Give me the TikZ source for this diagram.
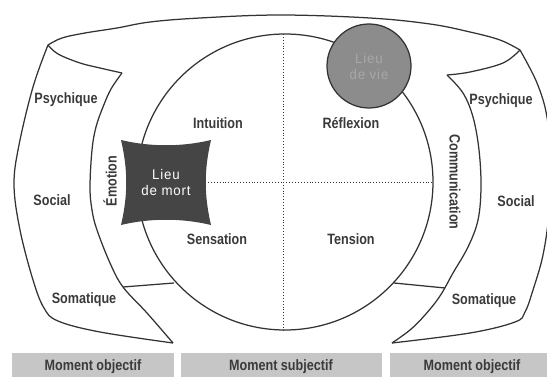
\documentclass[tikz,border=0pt]{standalone}
\usepackage{fontspec}
\setmainfont{Liberation Sans}[FakeStretch=0.84]
\newfontfamily\thinfont{Liberation Sans}[LetterSpace=6, FakeStretch=0.95]
\definecolor{ink}{HTML}{333333}
\definecolor{txt}{HTML}{3A3A3A}
\definecolor{boxgray}{HTML}{C6C6C6}
\definecolor{mortgray}{HTML}{454545}
\definecolor{viegray}{HTML}{8C8C8C}
\definecolor{vietext}{HTML}{A8A8A8}
\tikzset{
  line/.style={draw=ink, line width=1.25pt, line join=round},
  lbl/.style={text=txt, font=\fontsize{15}{17}\selectfont\bfseries, inner sep=0pt},
  dots/.style={draw=ink, line width=0.9pt, dotted},
}
\begin{document}
\begin{tikzpicture}[x=1pt,y=-1pt]
\useasboundingbox (0,0) rectangle (547,377);
\begin{scope}
\clip (0,0) rectangle (547,377);
% left panel
\draw[line] plot[smooth, tension=0.6] coordinates {(48,45) (58,54) (80,63) (100,68) (122,73)};
\draw[line] plot[smooth, tension=0.6] coordinates {(122,73) (111,89) (103,107) (96,127) (92,150) (90,187) (92,210) (97,230) (110,263) (123,287) (147,313) (173,343)};
\draw[line] plot[smooth, tension=0.6] coordinates {(48,45) (33,87) (19,145) (14,185) (20,230) (33,280) (44,308) (58,321) (100,332) (173,343)};
% top band
\draw[line] plot[smooth, tension=0.6] coordinates {(48,45) (62,38) (85,33) (117,28) (150,22) (200,18) (280,15) (370,18) (430,24) (470,32) (500,40) (520,50)};
% right panel
\draw[line] plot[smooth, tension=0.6] coordinates {(520,50) (503,63) (470,72) (447,75)};
\draw[line] plot[smooth, tension=0.6] coordinates {(447,75) (463,93) (473,117) (479,150) (481,187) (478,220) (468,247) (453,273) (440,296) (425,315) (410,330) (392,343)};
\draw[line] plot[smooth, tension=0.6] coordinates {(520,50) (537,83) (547,117) (551,165) (549,213) (543,255) (533,290) (525,312) (515,322) (470,333) (392,343)};
% central circle
\coordinate (c) at (285,182);
\draw[line] (c) circle[radius=148pt];
\coordinate (vt) at (283,34);
\coordinate (vb) at (283,330);
\coordinate (hl) at (208,182);
\coordinate (hr) at (433,182);
\draw[dots] (vt) -- (vb);
\draw[dots] (hl) -- (hr);
% bottom closing lines
\coordinate (el) at (123,287);
\coordinate (er) at (174,283);
\draw[line] (el) -- (er);
\coordinate (cl) at (394,283);
\coordinate (cr) at (445,288);
\draw[line] (cl) -- (cr);
% lieu de mort
\fill[mortgray] (121,140) .. controls (150,147) and (182,147) .. (211,140)
  .. controls (204,170) and (204,195) .. (211,225)
  .. controls (182,218) and (150,218) .. (121,225)
  .. controls (128,195) and (128,170) .. (121,140) -- cycle;
\node[text=white, font=\thinfont\fontsize{14}{16}\selectfont, align=center, inner sep=0pt] (mort) at (166,182) {Lieu\\de mort};
% lieu de vie
\node[circle, draw=ink, line width=1.25pt, fill=viegray, minimum size=84pt, inner sep=0pt,
  text=vietext, font=\thinfont\fontsize{14}{16}\selectfont, align=center] (vie) at (369,66) {Lieu\\de vie};
% labels
\node[lbl] (psyl) at (66,100) {Psychique};
\node[lbl] (socl) at (52,200) {Social};
\node[lbl] (soml) at (84,300) {Somatique};
\node[lbl] (psyr) at (501,101) {Psychique};
\node[lbl] (socr) at (516,201) {Social};
\node[lbl] (somr) at (484,301) {Somatique};
\node[lbl] (intu) at (218,123) {Intuition};
\node[lbl] (refl) at (351,123) {Réflexion};
\node[lbl] (sens) at (217,239) {Sensation};
\node[lbl] (tens) at (351,239) {Tension};
\node[lbl, rotate=90] (emo) at (110,181) {Émotion};
\node[lbl, rotate=-90] (comm) at (455,182) {Communication};
% moment boxes
\path[fill=boxgray] (12,353) rectangle (174,380);
\path[fill=boxgray] (181,353) rectangle (382,380);
\path[fill=boxgray] (390,353) rectangle (560,380);
\node[lbl] (mo1) at (93,367) {Moment objectif};
\node[lbl] (ms) at (281,367) {Moment subjectif};
\node[lbl] (mo2) at (472,367) {Moment objectif};
\end{scope}
\end{tikzpicture}
\end{document}
